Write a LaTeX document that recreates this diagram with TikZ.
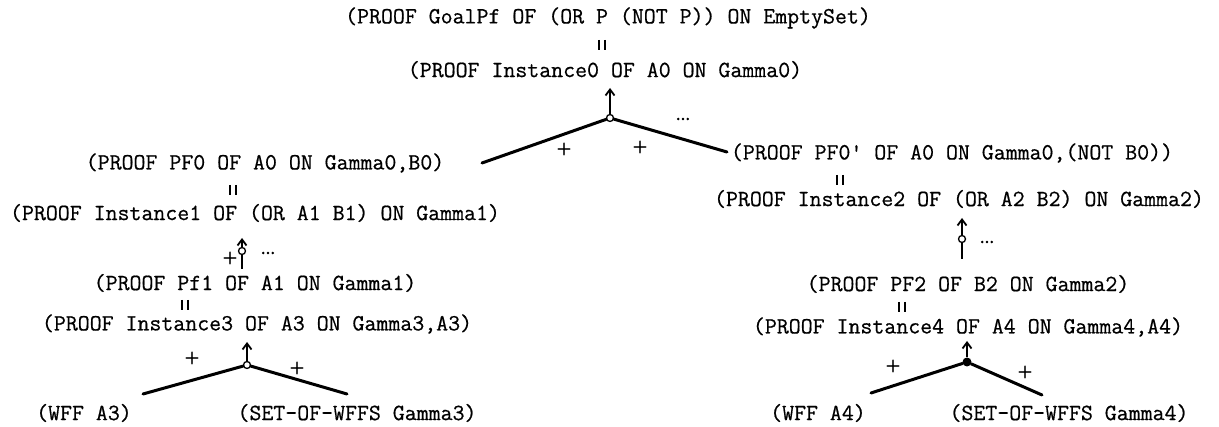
\documentclass[tikz,border=0pt]{standalone}
\usepackage{fontspec}
\newfontfamily\twfont{Latin Modern Mono}[FakeBold=0.6]
\newfontfamily\plusfont{Latin Modern Roman}[FakeBold=4]
\usetikzlibrary{arrows.meta}
\begin{document}
\begin{tikzpicture}[x=1pt,y=-1pt,
  lbl/.style={font=\fontsize{23.2}{26}\selectfont\twfont, inner sep=0pt},
  sym/.style={font=\fontsize{19}{20}\selectfont\plusfont, inner sep=0pt},
  dots/.style={font=\fontsize{19}{20}\selectfont\plusfont, inner sep=0pt},
  branch/.style={line width=3pt, line cap=round},
  shaft/.style={line width=2pt},
  upar/.style={line width=2pt, -{Straight Barb[length=6pt,width=9pt,line width=1.8pt]}},
  jct/.style={circle, draw, fill=white, line width=1.3pt, minimum size=7pt, inner sep=0pt},
  jctf/.style={circle, fill=black, minimum size=9pt, inner sep=0pt},
  eqmark/.pic={\draw[line width=2pt] (-2.6,-5) -- (-2.6,5) (2.6,-5) -- (2.6,5);}]
\useasboundingbox (0,0) rectangle (1219,427);

% texts
\node[lbl] (A) at (608,18) {(PROOF GoalPf OF (OR P (NOT P)) ON EmptySet)};
\node[lbl] (B) at (605,70) {(PROOF Instance0 OF A0 ON Gamma0)};
\node[lbl] (C) at (265,163) {(PROOF PF0 OF A0 ON Gamma0,B0)};
\node[lbl] (D) at (255,213) {(PROOF Instance1 OF (OR A1 B1) ON Gamma1)};
\node[lbl] (E) at (255,283) {(PROOF Pf1 OF A1 ON Gamma1)};
\node[lbl] (F) at (257,324) {(PROOF Instance3 OF A3 ON Gamma3,A3)};
\node[lbl] (G1) at (84,413) {(WFF A3)};
\node[lbl] (G2) at (357,413) {(SET-OF-WFFS Gamma3)};
\node[lbl] (H) at (952,153) {(PROOF PF0' OF A0 ON Gamma0,(NOT B0))};
\node[lbl] (I) at (959,199) {(PROOF Instance2 OF (OR A2 B2) ON Gamma2)};
\node[lbl] (J) at (968,284) {(PROOF PF2 OF B2 ON Gamma2)};
\node[lbl] (K) at (968,327) {(PROOF Instance4 OF A4 ON Gamma4,A4)};
\node[lbl] (L1) at (818,413) {(WFF A4)};
\node[lbl] (L2) at (1069,413) {(SET-OF-WFFS Gamma4)};

% equality marks
\pic at (602,45) {eqmark};
\pic at (233,190) {eqmark};
\pic at (185,305) {eqmark};
\pic at (840,180) {eqmark};
\pic at (902,307) {eqmark};

% top junction
\node[jct] (j0) at (610,118) {};
\coordinate (a0) at (610,88);
\coordinate (c0) at (482,163);
\coordinate (h0) at (727,152);
\draw[branch] (c0) -- (j0);
\draw[branch] (h0) -- (j0);
\draw[upar] (j0) -- (a0);
\node[sym] (p0a) at (564,149) {+};
\node[sym] (p0b) at (640,147) {+};
\node[dots] (d0) at (683,119) {...};

% left middle junction
\node[jct] (j1) at (242,251) {};
\coordinate (a1) at (242,238);
\coordinate (b1) at (242,269);
\draw[shaft] (b1) -- (j1);
\draw[upar] (j1) -- (a1);
\node[sym] (p1) at (230,258) {+};
\node[dots] (d1) at (268,253) {...};

% left bottom junction
\node[jct] (j3) at (247,365) {};
\coordinate (a3) at (247,342);
\coordinate (g1c) at (143,394);
\coordinate (g2c) at (347,394);
\draw[branch] (g1c) -- (j3);
\draw[branch] (g2c) -- (j3);
\draw[upar] (j3) -- (a3);
\node[sym] (p3a) at (192,358) {+};
\node[sym] (p3b) at (297,368) {+};

% right middle junction
\node[jct] (j2) at (962,239) {};
\coordinate (a2) at (962,218);
\coordinate (b2) at (962,259);
\draw[shaft] (b2) -- (j2);
\draw[upar] (j2) -- (a2);
\node[dots] (d2) at (987,242) {...};

% right bottom junction
\node[jctf] (j4) at (967,362) {};
\coordinate (a4) at (967,341);
\coordinate (l1c) at (871,393);
\coordinate (l2c) at (1042,395);
\draw[branch] (l1c) -- (j4);
\draw[branch] (l2c) -- (j4);
\draw[upar] (j4) -- (a4);
\node[sym] (p4a) at (893,366) {+};
\node[sym] (p4b) at (1025,372) {+};
\end{tikzpicture}
\end{document}
